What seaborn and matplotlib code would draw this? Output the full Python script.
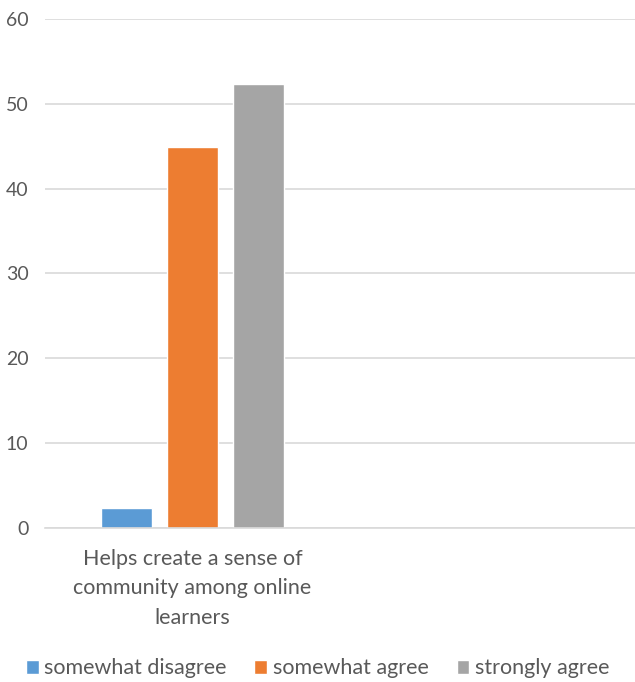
import matplotlib
matplotlib.use("Agg")
import matplotlib.pyplot as plt
import seaborn as sns
import pandas as pd

categories = ["Helps create a sense of\ncommunity among online\nlearners", " "]
series = ["somewhat disagree", "somewhat agree", "strongly agree"]
values = [2.4, 44.9, 52.4]
colors = ["#5B9BD5", "#ED7D31", "#A5A5A5"]
yticks = [0, 10, 20, 30, 40, 50, 60]

sns.set_theme(style="white")
plt.rcParams['font.family'] = ['Lato', 'DejaVu Sans']

df = pd.DataFrame({"category": [categories[0]] * len(series),
                   "series": series,
                   "value": values})

fig = plt.figure(figsize=(6.35, 6.82), dpi=100)
ax = fig.add_axes([0.071, 0.226, 0.929, 0.746])

sns.barplot(data=df, x="category", y="value", hue="series", order=categories,
            hue_order=series, palette=colors, width=0.67, gap=0.23,
            saturation=1, ax=ax, legend=True)

ax.set_ylim(0, 60)
ax.set_yticks(yticks)
ax.set_xlim(-0.5, 1.5)
ax.yaxis.grid(True, color="#D9D9D9", linewidth=1.2)
ax.set_axisbelow(True)
for s in ["top", "right", "left"]:
    ax.spines[s].set_visible(False)
ax.spines["bottom"].set_color("#D9D9D9")
ax.spines["bottom"].set_linewidth(1.2)
ax.set_xlabel("")
ax.set_ylabel("")
ax.tick_params(axis="y", length=0, labelsize=14, labelcolor="#595959", pad=12)
ax.tick_params(axis="x", length=0, labelsize=15.5, labelcolor="#595959", pad=15)
for t in ax.get_xticklabels():
    t.set_linespacing(1.6)

handles, labels = ax.get_legend_handles_labels()
ax.legend_.remove()
fig.legend(handles, labels, loc="center", bbox_to_anchor=(0.5, 0.02),
           ncol=3, frameon=False, fontsize=15.5, labelcolor="#595959",
           handlelength=0.6, handleheight=0.6, handletextpad=0.25,
           columnspacing=1.3)

fig.savefig("out.png", dpi=100)
